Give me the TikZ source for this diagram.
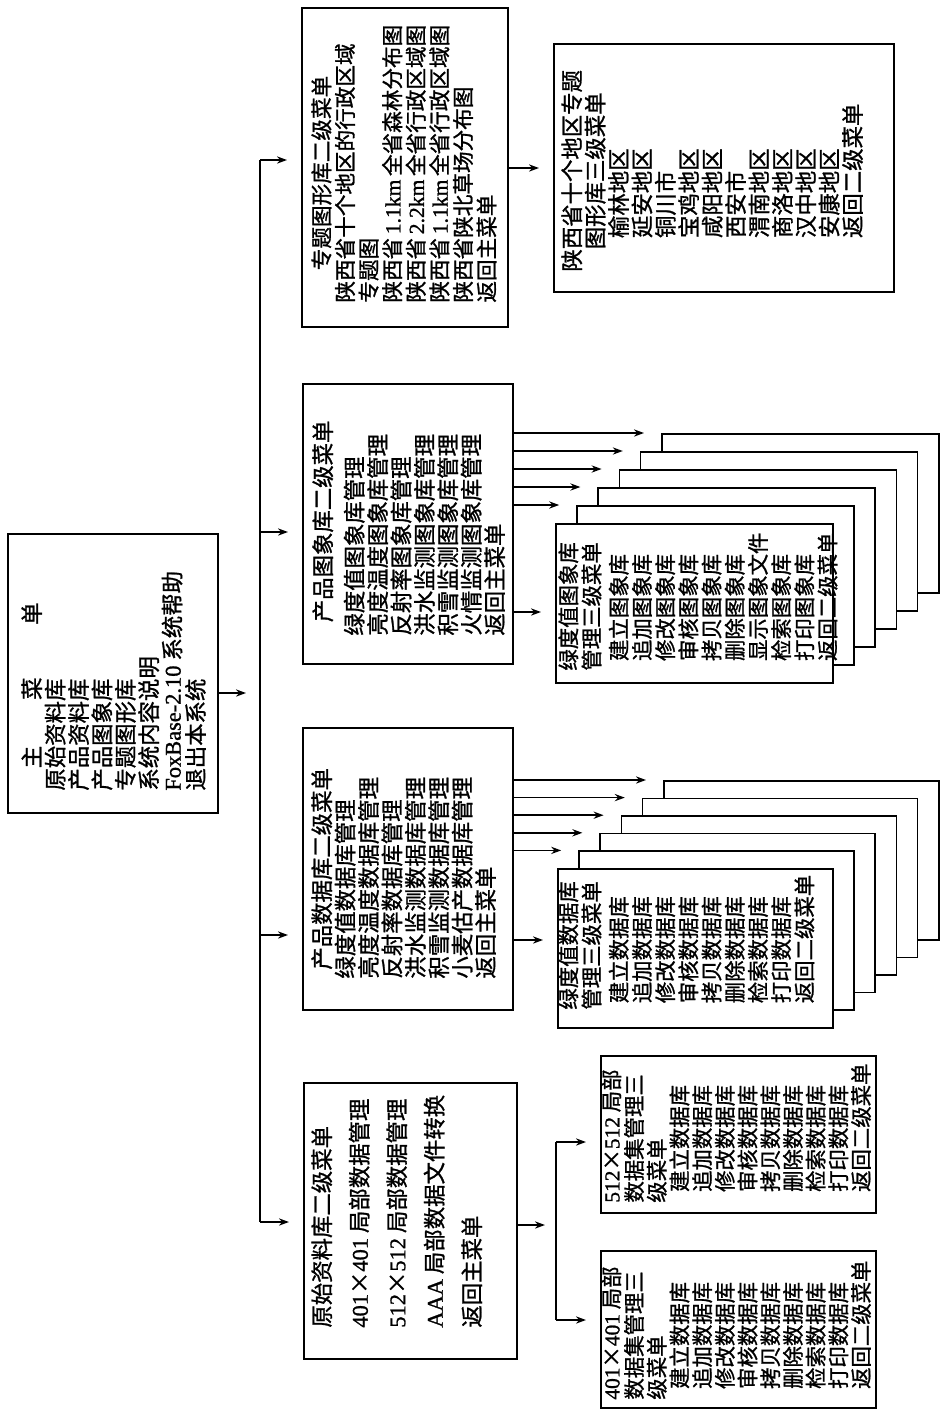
\documentclass[tikz,border=0pt]{standalone}
\usepackage{fontspec}
\setmainfont{Noto Sans CJK SC}[FakeBold=1.1]
\newfontfamily\latin{Liberation Serif}[FakeBold=1.1]
\usetikzlibrary{arrows.meta}

\tikzset{
  box/.style={draw, line width=0.8pt, fill=white, rectangle, inner sep=0pt, anchor=north west},
  txt/.style={rotate=90, anchor=north west, align=left, inner sep=0pt, font=\fontsize{11.2}{11.7}\selectfont},
  subtxt/.style={txt, font=\fontsize{10.7}{11.6}\selectfont},
  arr/.style={line width=0.8pt, -{Stealth[length=5pt, width=3.6pt]}, shorten >=7pt},
  link/.style={line width=0.8pt},
}

\begin{document}
\begin{tikzpicture}[x=0.5pt, y=-0.5pt]
  \useasboundingbox (0,0) rectangle (944,1409);

  % Main menu
  \node[box, minimum width=105pt, minimum height=139.5pt] (main) at (7,533) {};
  \node[txt] (maintxt) at (21,791) {\hspace*{1em}主\hspace{2.05em}菜\hspace{2.35em}单\\
    原始资料库\\产品资料库\\产品图象库\\专题图形库\\系统内容说明\\
    {\latin FoxBase-2.10} 系统帮助\\退出本系统};

  % Second level menus
  \node[box, minimum width=103pt, minimum height=159.5pt] (thememenu) at (301,7) {};
  \node[txt, font=\fontsize{10.8}{11.8}\selectfont] (themetxt) at (311,303) {\hspace*{1.5em}专题图形库二级菜单\\
    陕西省十个地区的行政区域\\专题图\\陕西省\,{\latin 1.1km}\,全省森林分布图\\
    陕西省\,{\latin 2.2km}\,全省行政区域图\\陕西省\,{\latin 1.1km}\,全省行政区域图\\
    陕西省陕北草场分布图\\返回主菜单};

  \node[box, minimum width=105pt, minimum height=140pt] (imagemenu) at (302,383) {};
  \node[txt] (imagetxt) at (312,636) {\hspace*{0.6em}产品图象库二级菜单\\[4pt]
    绿度值图象库管理\\亮度温度图象库管理\\反射率图象库管理\\洪水监测图象库管理\\
    积雪监测图象库管理\\火情监测图象库管理\\返回主菜单};

  \node[box, minimum width=105pt, minimum height=141pt] (datamenu) at (302,727) {};
  \node[txt] (datatxt) at (311,979) {\hspace*{0.4em}产品数据库二级菜单\\
    绿度值数据库管理\\亮度温度数据库管理\\反射率数据库管理\\洪水监测数据库管理\\
    积雪监测数据库管理\\小麦估产数据库管理\\返回主菜单};

  \node[box, minimum width=106.5pt, minimum height=138pt] (rawmenu) at (303,1082) {};
  \node[txt, font=\fontsize{11.2}{18.75}\selectfont] (rawtxt) at (311,1328) {原始资料库二级菜单\\
    {\latin 401}×{\latin 401} 局部数据管理\\{\latin 512}×{\latin 512} 局部数据管理\\
    {\latin AAA} 局部数据文件转换\\返回主菜单};

  % Third level menus
  \node[box, minimum width=170pt, minimum height=124pt] (regionmenu) at (553,43) {};
  \node[txt] (regiontxt) at (561,272) {陕西省十个地区专题\\\hspace*{1em}图形库三级菜单\\
    \hspace*{1.5em}榆林地区\\\hspace*{1.5em}延安地区\\\hspace*{1.5em}铜川市\\
    \hspace*{1.5em}宝鸡地区\\\hspace*{1.5em}咸阳地区\\\hspace*{1.5em}西安市\\
    \hspace*{1.5em}渭南地区\\\hspace*{1.5em}商洛地区\\\hspace*{1.5em}汉中地区\\
    \hspace*{1.5em}安康地区\\\hspace*{1.5em}返回二级菜单};

  \foreach \i in {5,4,3,2,1}
    \node[box, minimum width=138.5pt, minimum height=79.5pt] (imgsub\i) at ({555+21.2*\i},{523-18*\i}) {};
  \node[box, minimum width=138.5pt, minimum height=79.5pt] (imgsub0) at (555,523) {};
  \node[subtxt] (imgsubtxt) at (558,671) {绿度值图象库\\管理三级菜单\\[2pt]
    \hspace*{0.45em}建立图象库\\\hspace*{0.45em}追加图象库\\\hspace*{0.45em}修改图象库\\
    \hspace*{0.45em}审核图象库\\\hspace*{0.45em}拷贝图象库\\\hspace*{0.45em}删除图象库\\
    \hspace*{0.45em}显示图象文件\\\hspace*{0.45em}检索图象库\\\hspace*{0.45em}打印图象库\\
    \hspace*{0.45em}返回二级菜单};

  \foreach \i in {5,4,3,2,1}
    \node[box, minimum width=137.5pt, minimum height=79.5pt] (datsub\i) at ({557+21.2*\i},{868-17.6*\i}) {};
  \node[box, minimum width=137.5pt, minimum height=79.5pt] (datsub0) at (557,868) {};
  \node[subtxt] (datsubtxt) at (558,1010) {绿度值数据库\\管理三级菜单\\[2pt]
    \hspace*{0.3em}建立数据库\\\hspace*{0.3em}追加数据库\\\hspace*{0.3em}修改数据库\\
    \hspace*{0.3em}审核数据库\\\hspace*{0.3em}拷贝数据库\\\hspace*{0.3em}删除数据库\\
    \hspace*{0.3em}检索数据库\\\hspace*{0.3em}打印数据库\\\hspace*{0.3em}返回二级菜单};

  \node[box, minimum width=137.5pt, minimum height=78.5pt] (localb) at (600,1055) {};
  \node[subtxt, font=\fontsize{10.7}{11.35}\selectfont] (localbtxt) at (601,1203) {{\latin 512}×{\latin 512} 局部\\数据集管理三\\级菜单\\
    \hspace*{0.5em}建立数据库\\\hspace*{0.5em}追加数据库\\\hspace*{0.5em}修改数据库\\
    \hspace*{0.5em}审核数据库\\\hspace*{0.5em}拷贝数据库\\\hspace*{0.5em}删除数据库\\
    \hspace*{0.5em}检索数据库\\\hspace*{0.5em}打印数据库\\\hspace*{0.5em}返回二级菜单};

  \node[box, minimum width=137.5pt, minimum height=78.5pt] (locala) at (600,1250) {};
  \node[subtxt, font=\fontsize{10.7}{11.35}\selectfont] (localatxt) at (601,1400) {{\latin 401}×{\latin 401} 局部\\数据集管理三\\级菜单\\
    \hspace*{0.5em}建立数据库\\\hspace*{0.5em}追加数据库\\\hspace*{0.5em}修改数据库\\
    \hspace*{0.5em}审核数据库\\\hspace*{0.5em}拷贝数据库\\\hspace*{0.5em}删除数据库\\
    \hspace*{0.5em}检索数据库\\\hspace*{0.5em}打印数据库\\\hspace*{0.5em}返回二级菜单};

  % Bus from the main menu
  \coordinate (tap1) at (260,160);
  \coordinate (tap2) at (260,532);
  \coordinate (tap3) at (260,935);
  \coordinate (tap4) at (260,1222);
  \draw[arr] (main.east |- 0,693) -- (tap1 |- 0,693);
  \draw[link] (tap1) -- (tap4);
  \draw[arr] (tap1) -- (tap1 -| thememenu.west);
  \draw[arr] (tap2) -- (tap2 -| imagemenu.west);
  \draw[arr] (tap3) -- (tap3 -| datamenu.west);
  \draw[arr] (tap4) -- (tap4 -| rawmenu.west);

  % Links to the third level
  \draw[arr] (thememenu.east |- 0,168) -- (regionmenu.west |- 0,168);
  \draw[arr] (imagemenu.east |- 0,612) -- (imgsub0.west |- 0,612);
  \foreach \i in {1,...,5}
    \draw[arr, shorten >=8.5pt] (imagemenu.east |- imgsub\i.north west) -- (imgsub\i.north west);
  \draw[arr] (datamenu.east |- 0,940) -- (datsub0.west |- 0,940);
  \foreach \i in {1,...,5}
    \draw[arr, shorten >=8.5pt] (datamenu.east |- datsub\i.north west) -- (datsub\i.north west);

  % Local data sets
  \coordinate (sub1) at (556,1142);
  \coordinate (sub2) at (556,1320);
  \draw[arr, shorten >=5.5pt] (rawmenu.east |- 0,1225) -- (sub1 |- 0,1225);
  \draw[link] (sub1) -- (sub2);
  \draw[arr] (sub1) -- (sub1 -| localb.west);
  \draw[arr] (sub2) -- (sub2 -| locala.west);
\end{tikzpicture}
\end{document}
